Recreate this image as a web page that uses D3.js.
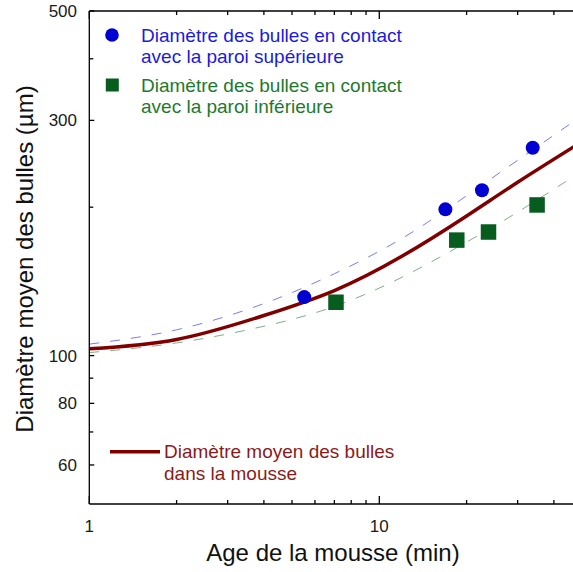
<!DOCTYPE html>
<html>
<head>
<meta charset="utf-8">
<script src="https://cdn.jsdelivr.net/npm/d3@7/dist/d3.min.js"></script>
<style>
  html, body { margin: 0; padding: 0; background: #fff; }
  svg { display: block; font-family: "Liberation Sans", Arial, sans-serif; }
</style>
</head>
<body>
<svg id="chart" width="573" height="572"></svg>
<script>
// Mean bubble diameter versus foam age (log-log)
const curveAges      = [1, 2, 4, 7, 12, 20, 30, 47];
const meanDiameter   = [103.2, 107.8, 120.6, 135.5, 159.2, 192, 224.7, 265.5];
const upperDiameter  = [105.5, 112.8, 127.5, 146.6, 173, 211, 249, 299];
const lowerDiameter  = [101.4, 106.1, 114.7, 125.8, 144.3, 169.9, 195.5, 231.2];

// Bubbles touching the top wall / the bottom wall
const upperAges      = [5.51, 16.9, 22.6, 33.8];
const upperBubbles   = [131.4, 198, 216.4, 263.9];
const lowerAges      = [7.09, 18.5, 23.8, 35.0];
const lowerBubbles   = [128.3, 171.5, 178.1, 202.1];

const xMajorTicks = [1, 10];
const xMinorTicks = [2, 3, 4, 5, 6, 7, 8, 9, 20, 30, 40];
const yMajorTicks = [500, 300, 100, 80, 60];
const yMinorTicks = [400, 200, 90, 70];

const legendUpper = ["Diamètre des bulles en contact", "avec la paroi supérieure"];
const legendLower = ["Diamètre des bulles en contact", "avec la paroi inférieure"];
const legendMean  = ["Diamètre moyen des bulles", "dans la mousse"];
const xTitle = "Age de la mousse (min)";
const yTitle = "Diamètre moyen des bulles (µm)";

const plotLeft = 89.3, plotTop = 11, plotBottom = 504;
const x = d3.scaleLog().domain([1, 50]).range([plotLeft, plotLeft + 290 * Math.log10(50)]);
const y = d3.scaleLog().domain([50, 500]).range([plotBottom, plotTop]);
const plotRight = x(50);

const svg = d3.select("#chart");

svg.append("clipPath").attr("id", "plotClip")
  .append("rect").attr("x", plotLeft).attr("y", plotTop)
  .attr("width", plotRight - plotLeft).attr("height", plotBottom - plotTop);

const plot = svg.append("g").attr("clip-path", "url(#plotClip)");

function curveLine(values) {
  return d3.line()
    .x((d, i) => x(curveAges[i]))
    .y(d => y(d))
    .curve(d3.curveNatural)(values);
}

plot.append("path").attr("d", curveLine(upperDiameter))
  .attr("fill", "none").attr("stroke", "#7a7af5").attr("stroke-width", 1)
  .attr("stroke-dasharray", "10,11");
plot.append("path").attr("d", curveLine(lowerDiameter))
  .attr("fill", "none").attr("stroke", "#7fae86").attr("stroke-width", 1)
  .attr("stroke-dasharray", "10,11");
plot.append("path").attr("d", curveLine(meanDiameter))
  .attr("fill", "none").attr("stroke", "#800000").attr("stroke-width", 3.5);

plot.selectAll("circle.upper").data(upperAges).join("circle")
  .attr("class", "upper")
  .attr("cx", d => x(d)).attr("cy", (d, i) => y(upperBubbles[i]))
  .attr("r", 7).attr("fill", "#0000d2");

const sq = 15.5;
plot.selectAll("rect.lower").data(lowerAges).join("rect")
  .attr("class", "lower")
  .attr("x", d => x(d) - sq / 2).attr("y", (d, i) => y(lowerBubbles[i]) - sq / 2)
  .attr("width", sq).attr("height", sq).attr("fill", "#075d1e");

// Frame
const axisG = svg.append("g").attr("stroke", "#000").attr("stroke-width", 1.3);
axisG.append("line").attr("x1", plotLeft).attr("x2", plotLeft).attr("y1", plotTop).attr("y2", plotBottom);
axisG.append("line").attr("x1", plotLeft).attr("x2", plotRight).attr("y1", plotBottom).attr("y2", plotBottom);
axisG.append("line").attr("x1", plotLeft).attr("x2", plotRight).attr("y1", plotTop).attr("y2", plotTop);
axisG.append("line").attr("x1", plotRight).attr("x2", plotRight).attr("y1", plotTop).attr("y2", plotBottom);

// Inward ticks on bottom and top
function xTicks(vals, len) {
  vals.forEach(v => {
    axisG.append("line").attr("x1", x(v)).attr("x2", x(v)).attr("y1", plotBottom).attr("y2", plotBottom - len);
    axisG.append("line").attr("x1", x(v)).attr("x2", x(v)).attr("y1", plotTop).attr("y2", plotTop + len);
  });
}
xTicks(xMajorTicks, 8);
xTicks(xMinorTicks, 4);

function yTicks(vals, len) {
  vals.forEach(v => {
    axisG.append("line").attr("x1", plotLeft).attr("x2", plotLeft + len).attr("y1", y(v)).attr("y2", y(v));
  });
}
yTicks(yMajorTicks, 5);
yTicks(yMinorTicks, 4);

const labelColor = "#1a1a1a";
svg.append("g").selectAll("text").data(xMajorTicks).join("text")
  .attr("x", d => x(d)).attr("y", 532).attr("text-anchor", "middle")
  .attr("font-size", 17).attr("fill", labelColor).text(d => d);

svg.append("g").selectAll("text").data(yMajorTicks).join("text")
  .attr("x", 77).attr("y", d => y(d)).attr("dy", "0.35em").attr("text-anchor", "end")
  .attr("font-size", 17).attr("fill", labelColor).text(d => d);

svg.append("text").attr("x", 333).attr("y", 561).attr("text-anchor", "middle")
  .attr("font-size", 24).attr("fill", "#111").text(xTitle);

svg.append("text").attr("transform", "translate(33,259) rotate(-90)")
  .attr("text-anchor", "middle").attr("font-size", 24).attr("fill", "#111").text(yTitle);

// Legend
const legend = svg.append("g").attr("font-size", 19);
legend.append("circle").attr("cx", 112).attr("cy", 35).attr("r", 6.8).attr("fill", "#0000d2");
legend.selectAll("text.lu").data(legendUpper).join("text").attr("class", "lu")
  .attr("x", 141).attr("y", (d, i) => 42.3 + i * 21).attr("fill", "#1a1ae0").text(d => d);

legend.append("rect").attr("x", 112.3 - 6.5).attr("y", 85 - 6.5).attr("width", 13).attr("height", 13)
  .attr("fill", "#075d1e");
legend.selectAll("text.ll").data(legendLower).join("text").attr("class", "ll")
  .attr("x", 141).attr("y", (d, i) => 92.3 + i * 20.5).attr("fill", "#1c7a2e").text(d => d);

legend.append("line").attr("x1", 110).attr("x2", 160).attr("y1", 451.7).attr("y2", 451.7)
  .attr("stroke", "#800000").attr("stroke-width", 3.5);
legend.selectAll("text.lm").data(legendMean).join("text").attr("class", "lm")
  .attr("x", 164).attr("y", (d, i) => 458.3 + i * 21.7).attr("fill", "#8b1a1a").text(d => d);
</script>
</body>
</html>
